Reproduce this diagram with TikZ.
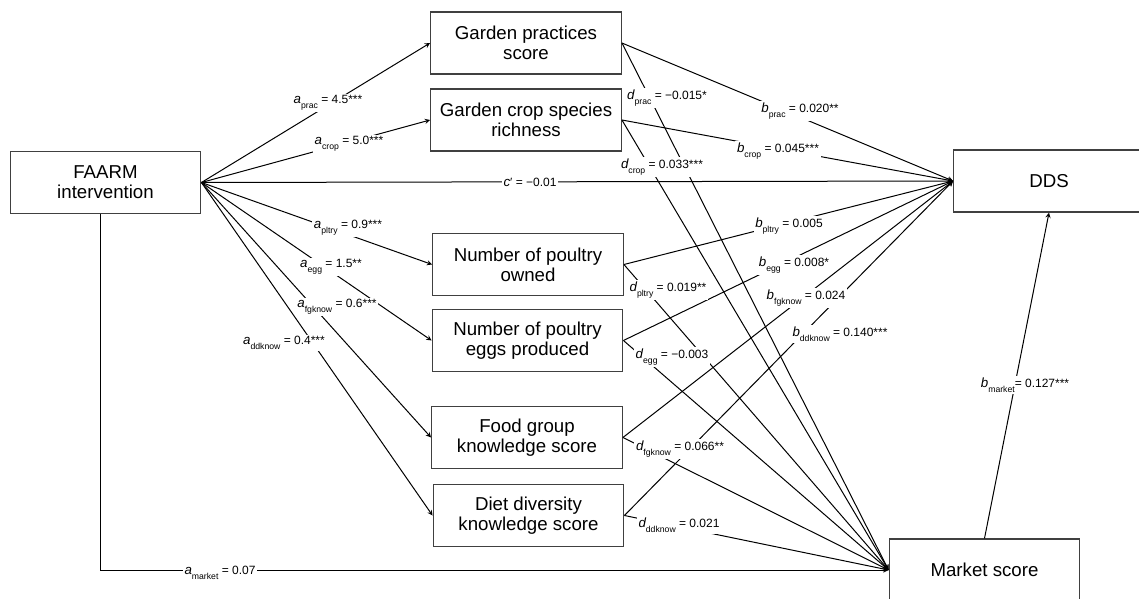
\documentclass[tikz,border=0pt]{standalone}
\usepackage{fontspec}
\setmainfont{Liberation Sans}
\usetikzlibrary{arrows,positioning,calc}

\newcommand{\coefl}[3]{{\fontsize{10}{10}\selectfont\itshape #1}\raisebox{-3.5pt}{\fontsize{6.5}{7}\selectfont #2}#3}

\tikzset{
  box/.style={draw=black!75, line width=0.9pt, minimum width=143pt, minimum height=46.5pt,
    align=center, inner sep=2pt, font=\fontsize{14}{15}\selectfont},
  link/.style={draw=black, line width=0.75pt, -stealth},
  coef/.style={fill=white, inner sep=1.2pt, anchor=base, font=\fontsize{9}{10}\selectfont}
}

\begin{document}
\begin{tikzpicture}[x=0.75pt, y=-0.75pt]
\useasboundingbox (0,0) rectangle (1139,599);
% variables
\node[box] (faarm) at (105.5,182.5) {FAARM\\intervention};
\node[box] (prac) at (526,43) {Garden practices\\score};
\node[box] (crop) at (526,120) {Garden crop species\\richness};
\node[box] (pltry) at (528,264.5) {Number of poultry\\owned};
\node[box] (egg) at (527.5,340.5) {Number of poultry\\eggs produced};
\node[box] (fgknow) at (527,437.5) {Food group\\knowledge score};
\node[box] (ddknow) at (528.5,515.5) {Diet diversity\\knowledge score};
\node[box] (dds) at (1049,181) {DDS};
\node[box] (market) at (984.5,570) {Market score};
% intervention to mediators and outcome
\foreach \m in {prac,crop,pltry,egg,fgknow,ddknow}
  \draw[link] (faarm.east) -- (\m.west);
\draw[link] (faarm.east) -- (dds.west);
\draw[link] ([xshift=-3.75pt]faarm.south) |- (market.west);
% mediators to DDS and market score
\foreach \m in {prac,crop,pltry,egg,fgknow,ddknow} {
  \draw[link] (\m.east) -- (dds.west);
  \draw[link] (\m.east) -- (market.west);
}
\draw[link] (market.north) -- (dds.south);
% path coefficients
\node[coef] (ca-prac) at (328,103.5) {\coefl{a}{prac}{ = 4.5***}};
\node[coef] (ca-crop) at (349,144.5) {\coefl{a}{crop}{ = 5.0***}};
\node[coef] (ca-pltry) at (348,228.5) {\coefl{a}{pltry}{ = 0.9***}};
\node[coef] (ca-egg) at (331,267.5) {\coefl{a}{egg}{ = 1.5**}};
\node[coef] (ca-fgknow) at (337,307.5) {\coefl{a}{fgknow}{ = 0.6***}};
\node[coef] (ca-ddknow) at (284,344.5) {\coefl{a}{ddknow}{ = 0.4***}};
\node[coef] (ca-market) at (220,574.5) {\coefl{a}{market}{ = 0.07}};
\node[coef] (cc) at (530,186.5) {{\fontsize{10}{10}\selectfont\itshape c}′ = −0.01};
\node[coef] (cd-prac) at (667,99.5) {\coefl{d}{prac}{ = −0.015*}};
\node[coef] (cd-crop) at (662,168.5) {\coefl{d}{crop}{ = 0.033***}};
\node[coef] (cd-pltry) at (668,291.5) {\coefl{d}{pltry}{ = 0.019**}};
\node[coef] (cd-egg) at (672,358.5) {\coefl{d}{egg}{ = −0.003}};
\node[coef] (cd-fgknow) at (680,450.5) {\coefl{d}{fgknow}{ = 0.066**}};
\node[coef] (cd-ddknow) at (679,527.5) {\coefl{d}{ddknow}{ = 0.021}};
\node[coef] (cb-prac) at (800,112.5) {\coefl{b}{prac}{ = 0.020**}};
\node[coef] (cb-crop) at (778,152.5) {\coefl{b}{crop}{ = 0.045***}};
\node[coef] (cb-pltry) at (789,227.5) {\coefl{b}{pltry}{ = 0.005}};
\node[coef] (cb-egg) at (794,266.5) {\coefl{b}{egg}{ = 0.008*}};
\node[coef] (cb-fgknow) at (806,299.5) {\coefl{b}{fgknow}{ = 0.024}};
\node[coef] (cb-ddknow) at (840,336.5) {\coefl{b}{ddknow}{ = 0.140***}};
\node[coef] (cb-market) at (1025,387.5) {\coefl{b}{market}{= 0.127***}};
\end{tikzpicture}
\end{document}
